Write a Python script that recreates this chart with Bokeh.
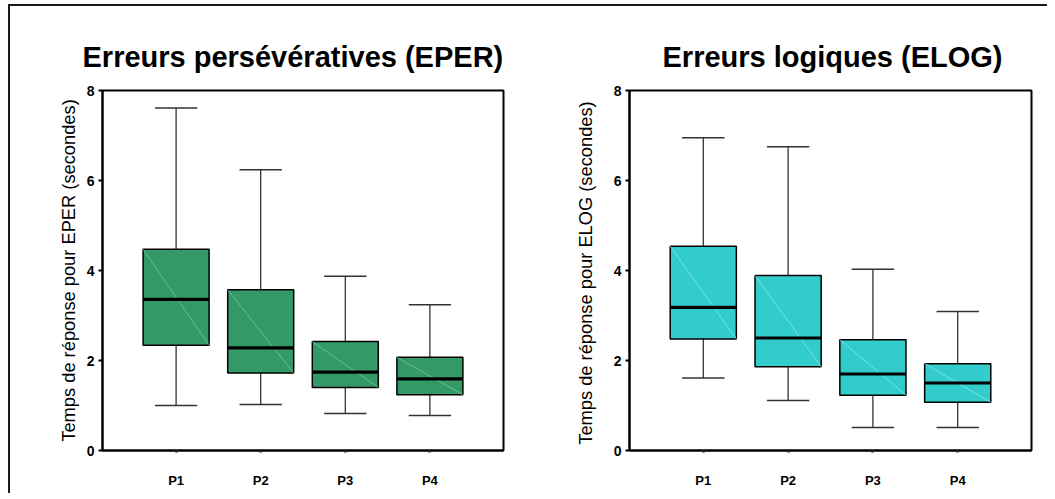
from bokeh.plotting import figure
from bokeh.layouts import row
from bokeh.models import Range1d, FixedTicker
from bokeh.embed import file_html
from bokeh.resources import INLINE

categories = ["P1", "P2", "P3", "P4"]

eper_low = [1.00, 1.02, 0.82, 0.78]
eper_q1 = [2.34, 1.72, 1.40, 1.24]
eper_med = [3.36, 2.28, 1.74, 1.59]
eper_q3 = [4.47, 3.57, 2.42, 2.07]
eper_high = [7.61, 6.24, 3.87, 3.24]

elog_low = [1.61, 1.11, 0.51, 0.51]
elog_q1 = [2.48, 1.86, 1.23, 1.07]
elog_med = [3.18, 2.50, 1.70, 1.50]
elog_q3 = [4.54, 3.89, 2.46, 1.93]
elog_high = [6.95, 6.75, 4.03, 3.09]

y_ticks = [0, 2, 4, 6, 8]

FONT = "Liberation Sans"
BOX_W = 0.78
CAP_W = 0.5


def make(title, ylabel, low, q1, med, q3, high, fill, diag, width, mb_left, mb_right,
         title_offset, label_standoff):
    xs = [i + 1 for i in range(len(categories))]
    p = figure(width=width, height=487, output_backend="svg", toolbar_location=None,
               x_range=Range1d(0.13, 4.87), y_range=Range1d(0, 8),
               min_border_left=mb_left, min_border_right=mb_right,
               min_border_top=84, min_border_bottom=43)
    p.title.text = title
    p.title.text_font = FONT
    p.title.text_font_size = "29px"
    p.title.text_font_style = "bold"
    p.title.text_color = "black"
    p.title.align = "left"
    p.title.offset = title_offset
    p.title.standoff = 36
    p.xgrid.visible = False
    p.ygrid.visible = False
    p.outline_line_color = "black"
    p.outline_line_width = 2
    p.background_fill_color = "white"
    p.border_fill_color = "white"

    p.segment(x0=xs, y0=q3, x1=xs, y1=high, line_color="#222222", line_width=1.2)
    p.segment(x0=xs, y0=low, x1=xs, y1=q1, line_color="#222222", line_width=1.2)
    p.segment(x0=[x - CAP_W / 2 for x in xs], y0=high, x1=[x + CAP_W / 2 for x in xs], y1=high,
              line_color="#333333", line_width=1.5)
    p.segment(x0=[x - CAP_W / 2 for x in xs], y0=low, x1=[x + CAP_W / 2 for x in xs], y1=low,
              line_color="#333333", line_width=1.5)
    p.vbar(x=xs, width=BOX_W, bottom=q1, top=q3, fill_color=fill,
           line_color="black", line_width=1.5)
    p.segment(x0=[x - BOX_W / 2 for x in xs], y0=q3, x1=[x + BOX_W / 2 for x in xs], y1=q1,
              line_color=diag, line_width=1, line_alpha=0.8)
    p.segment(x0=[x - BOX_W / 2 for x in xs], y0=med, x1=[x + BOX_W / 2 for x in xs], y1=med,
              line_color="black", line_width=3.2)

    p.yaxis.ticker = FixedTicker(ticks=y_ticks)
    p.yaxis.axis_label = ylabel
    p.yaxis.axis_label_text_font = FONT
    p.yaxis.axis_label_text_font_size = "18.3px"
    p.yaxis.axis_label_text_font_style = "normal"
    p.yaxis.axis_label_text_color = "black"
    p.yaxis.axis_label_standoff = label_standoff
    p.yaxis.major_label_text_font = FONT
    p.yaxis.major_label_text_font_size = "14px"
    p.yaxis.major_label_text_font_style = "bold"
    p.yaxis.major_label_text_color = "black"
    p.yaxis.major_label_standoff = 4
    p.yaxis.major_tick_in = 0
    p.yaxis.major_tick_out = 4
    p.yaxis.major_tick_line_width = 2
    p.yaxis.minor_tick_line_color = None
    p.yaxis.axis_line_width = 2
    p.yaxis.axis_line_color = "black"

    p.xaxis.ticker = FixedTicker(ticks=xs)
    p.xaxis.major_label_overrides = {x: c for x, c in zip(xs, categories)}
    p.xaxis.major_label_text_font = FONT
    p.xaxis.major_label_text_font_size = "13px"
    p.xaxis.major_label_text_font_style = "bold"
    p.xaxis.major_label_text_color = "black"
    p.xaxis.major_label_standoff = 20
    p.xaxis.major_tick_in = 0
    p.xaxis.major_tick_out = 2
    p.xaxis.major_tick_line_width = 3
    p.xaxis.major_tick_line_color = "#333333"
    p.xaxis.minor_tick_line_color = None
    p.xaxis.axis_line_width = 2
    p.xaxis.axis_line_color = "black"
    return p


p1 = make("Erreurs persévératives (EPER)", "Temps de réponse pour EPER (secondes)",
          eper_low, eper_q1, eper_med, eper_q3, eper_high,
          "#339966", "#7cc4a0", 517, 92, 24, -20, 5)
p2 = make("Erreurs logiques (ELOG)", "Temps de réponse pour ELOG  (secondes)",
          elog_low, elog_q1, elog_med, elog_q3, elog_high,
          "#33cccc", "#8be6e6", 520, 102, 16, 33, 15)

layout = row(p1, p2, styles={"margin-left": "8px", "margin-top": "4px",
                             "border-top": "2px solid #1a1a1a",
                             "border-left": "2px solid #1a1a1a"})

open("out.html", "w").write(file_html(layout, INLINE))
